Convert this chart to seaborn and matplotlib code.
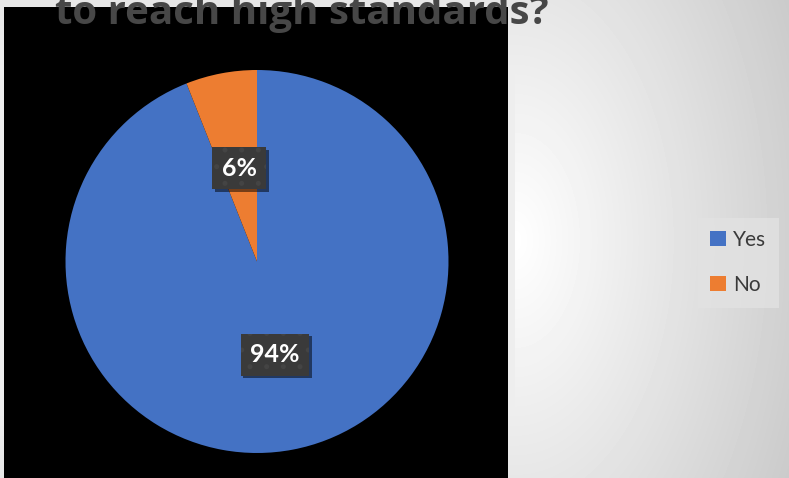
import numpy as np
import matplotlib
matplotlib.use("Agg")
import matplotlib.pyplot as plt
import matplotlib.transforms as mtransforms
from matplotlib.patches import Rectangle, Patch
import seaborn as sns

sns.set_style("white")
plt.rcParams["font.family"] = ["Lato", "DejaVu Sans"]
plt.rcParams["hatch.linewidth"] = 1.2

# Survey answers
categories = ["Yes", "No"]
shares = [94, 6]
title_text = "to reach high standards?"

colors = sns.color_palette(["#4472C4", "#ED7D31"])

W, H = 789, 478
fig = plt.figure(figsize=(W / 100, H / 100), dpi=100)

# Slide background: soft light-grey gradient
bg = fig.add_axes([0, 0, 1, 1])
yy, xx = np.mgrid[0:H, 0:W]
dx = np.clip(xx - 515, 0, None)
dy = (yy - 240) * 0.6
dist = np.sqrt(dx ** 2 + dy ** 2)
val = np.clip(255 - 0.17 * dist, 0, 255) / 255.0
val[:, :515] = np.minimum(val[:, :515], 0.93)
bg.imshow(val, cmap="gray", vmin=0, vmax=1, extent=[0, W, H, 0], aspect="auto",
          interpolation="bilinear")
bg.add_patch(Rectangle((4, 7), 504, H - 7, facecolor="black", edgecolor="none"))
bg.set_xlim(0, W)
bg.set_ylim(H, 0)
bg.axis("off")

# Pie axes laid over the black panel, in pixel units
ax = fig.add_axes([4 / W, 0, 504 / W, (H - 7) / H])
cx, cy, r = 253, H - 261.5, 191.5
wedges, _ = ax.pie(shares, colors=colors, startangle=90, counterclock=False,
                   center=(cx, cy), radius=r, frame=True,
                   wedgeprops=dict(linewidth=0))
ax.set_xlim(0, 504)
ax.set_ylim(0, H - 7)
ax.set_aspect("auto")
for s in ax.spines.values():
    s.set_visible(False)
ax.set_xticks([])
ax.set_yticks([])
ax.patch.set_visible(False)

label_radius = 0.495
labels = []
for w, v in zip(wedges, shares):
    ang = np.deg2rad((w.theta1 + w.theta2) / 2)
    x = cx + label_radius * r * np.cos(ang)
    y = cy + label_radius * r * np.sin(ang)
    t = ax.text(x, y, f"{v}%", ha="center", va="center", color="white",
                fontsize=18, fontweight="bold", zorder=4,
                bbox=dict(boxstyle="square,pad=0.38", facecolor="#3a3a3a",
                          edgecolor="#444444", linewidth=0, hatch="."))
    labels.append(t)

# Drop shadows under the data-label boxes
fig.canvas.draw()
renderer = fig.canvas.get_renderer()
for t in labels:
    ext = t.get_bbox_patch().get_window_extent(renderer)
    ax.add_patch(Rectangle((ext.x0 + 2.5, ext.y0 - 2.5), ext.width, ext.height,
                           transform=mtransforms.IdentityTransform(),
                           facecolor="black", edgecolor="none", alpha=0.5, zorder=3))

# Title, partly running off the top edge
fig.text(55 / W, 1 - 24 / H, title_text, ha="left", va="baseline",
         fontsize=29, fontweight="bold", color="#474747",
         family=["Open Sans", "DejaVu Sans"])

handles = [Patch(facecolor=c, edgecolor="none") for c in colors]
leg = fig.legend(handles, categories, loc="center", bbox_to_anchor=(738.5 / W, 1 - 262.5 / H),
                 frameon=True, fontsize=15, handlelength=0.75, handleheight=0.75,
                 handletextpad=0.35, labelspacing=1.2, borderpad=0.6,
                 labelcolor="#3a3a3a")
leg.get_frame().set_facecolor("#e2e2e2")
leg.get_frame().set_edgecolor("none")
leg.get_frame().set_boxstyle("square", pad=0)

fig.savefig("out.png", dpi=100)
